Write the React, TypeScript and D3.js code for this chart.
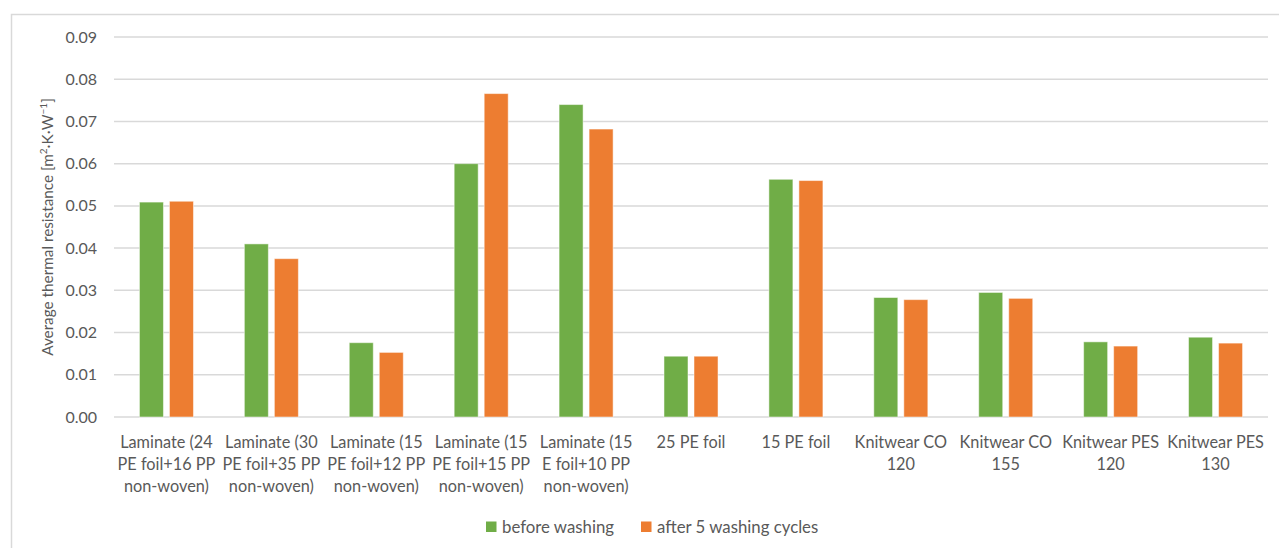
import React, { useRef, useEffect } from 'react';
import * as d3 from 'd3';

// chart data
const categories = [
  'Laminate (24 PE foil+16 PP non-woven)',
  'Laminate (30 PE foil+35 PP non-woven)',
  'Laminate (15 PE foil+12 PP non-woven)',
  'Laminate (15 PE foil+15 PP non-woven)',
  'Laminate (15 E foil+10 PP non-woven)',
  '25 PE foil',
  '15 PE foil',
  'Knitwear CO 120',
  'Knitwear CO 155',
  'Knitwear PES 120',
  'Knitwear PES 130',
];
// wrapped the way the source chart wraps them
const categoryLines = [
  ['Laminate (24', 'PE foil+16 PP', 'non-woven)'],
  ['Laminate (30', 'PE foil+35 PP', 'non-woven)'],
  ['Laminate (15', 'PE foil+12 PP', 'non-woven)'],
  ['Laminate (15', 'PE foil+15 PP', 'non-woven)'],
  ['Laminate (15', 'E foil+10 PP', 'non-woven)'],
  ['25 PE foil'],
  ['15 PE foil'],
  ['Knitwear CO', '120'],
  ['Knitwear CO', '155'],
  ['Knitwear PES', '120'],
  ['Knitwear PES', '130'],
];
const seriesNames = ['before washing', 'after 5 washing cycles'];
const beforeWashing = [0.0509, 0.041, 0.0176, 0.06, 0.074, 0.0144, 0.0563, 0.0283, 0.0295, 0.0178, 0.0189];
const afterWashing = [0.0511, 0.0375, 0.0153, 0.0766, 0.0682, 0.0144, 0.056, 0.0278, 0.0281, 0.0168, 0.0175];
const yTicks = [0, 0.01, 0.02, 0.03, 0.04, 0.05, 0.06, 0.07, 0.08, 0.09];
const colors = ['#70AD47', '#ED7D31'];

const W = 1279;
const H = 548;
const FONT = 'Lato, "Open Sans", sans-serif';
const TEXT = '#595959';

export default function App() {
  const svgRef = useRef<SVGSVGElement>(null);

  useEffect(() => {
    if (!svgRef.current) return;
    const svg = d3.select(svgRef.current);
    svg.selectAll('*').remove();

    const left = 114, right = 1268, top = 37, bottom = 417;

    // outer chart frame
    svg.append('rect')
      .attr('x', 11.5).attr('y', 14.5)
      .attr('width', W + 10).attr('height', H + 10)
      .attr('fill', '#fff')
      .attr('stroke', '#D9D9D9')
      .attr('stroke-width', 1.5);

    const y = d3.scaleLinear().domain([0, 0.09]).range([bottom, top]);
    const x0 = d3.scaleBand<string>()
      .domain(categories)
      .range([left, right])
      .paddingInner(0.485)
      .paddingOuter(0.2425);
    const x1 = d3.scaleBand<string>()
      .domain(seriesNames)
      .range([0, x0.bandwidth()])
      .paddingInner(0.2);

    // gridlines
    svg.append('g')
      .selectAll('line')
      .data(yTicks)
      .join('line')
      .attr('x1', left).attr('x2', right)
      .attr('y1', d => y(d)).attr('y2', d => y(d))
      .attr('stroke', '#D9D9D9')
      .attr('stroke-width', 1.5);

    // y tick labels
    svg.append('g')
      .selectAll('text')
      .data(yTicks)
      .join('text')
      .attr('x', 97)
      .attr('y', d => y(d))
      .attr('dy', '0.35em')
      .attr('text-anchor', 'end')
      .attr('font-family', FONT)
      .attr('font-size', 16)
      .attr('fill', TEXT)
      .text(d => d.toFixed(2));

    // bars
    const series = [beforeWashing, afterWashing];
    series.forEach((vals, si) => {
      svg.append('g')
        .selectAll('rect')
        .data(vals)
        .join('rect')
        .attr('x', (_, i) => (x0(categories[i]) ?? 0) + (x1(seriesNames[si]) ?? 0))
        .attr('width', x1.bandwidth())
        .attr('y', d => y(d))
        .attr('height', d => bottom - y(d))
        .attr('fill', colors[si])
        .attr('stroke', '#fff')
        .attr('stroke-opacity', 0.5)
        .attr('stroke-width', 1);
    });

    // category labels
    const labels = svg.append('g');
    categoryLines.forEach((lines, i) => {
      const cx = (x0(categories[i]) ?? 0) + x0.bandwidth() / 2;
      const t = labels.append('text')
        .attr('text-anchor', 'middle')
        .attr('font-family', FONT)
        .attr('font-size', 16.3)
        .attr('fill', TEXT);
      lines.forEach((ln, li) => {
        t.append('tspan').attr('x', cx).attr('y', 447.5 + li * 22.3).text(ln);
      });
    });

    // y axis title
    const title = svg.append('text')
      .attr('transform', `translate(53, ${(top + bottom) / 2}) rotate(-90)`)
      .attr('text-anchor', 'middle')
      .attr('font-family', FONT)
      .attr('font-size', 15.3)
      .attr('fill', TEXT);
    title.append('tspan').text('Average thermal resistance [m');
    title.append('tspan').attr('baseline-shift', 'super').attr('font-size', 10).text('2');
    title.append('tspan').text('·K·W');
    title.append('tspan').attr('baseline-shift', 'super').attr('font-size', 10).text('−1');
    title.append('tspan').text(']');

    // legend
    const legendItems = [
      { name: seriesNames[0], color: colors[0], x: 486 },
      { name: seriesNames[1], color: colors[1], x: 641 },
    ];
    const lg = svg.append('g');
    legendItems.forEach(it => {
      lg.append('rect')
        .attr('x', it.x).attr('y', 521.5)
        .attr('width', 10.5).attr('height', 10.5)
        .attr('fill', it.color);
      lg.append('text')
        .attr('x', it.x + 16).attr('y', 527)
        .attr('dy', '0.35em')
        .attr('font-family', FONT)
        .attr('font-size', 16.8)
        .attr('fill', TEXT)
        .text(it.name);
    });
  }, []);

  return (
    <svg
      ref={svgRef}
      width={W}
      height={H}
      style={{ position: 'absolute', left: 0, top: 0, display: 'block', background: '#fff' }}
    />
  );
}
